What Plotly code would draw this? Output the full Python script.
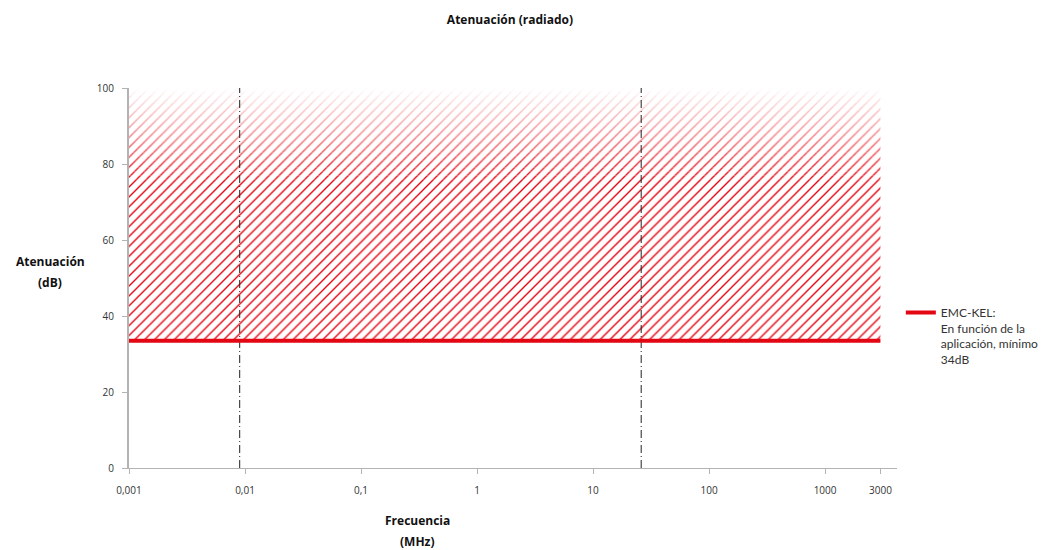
import plotly.graph_objects as go

# ---- data ----
freq_span = [0.001, 3000]          # MHz, extent of the EMC-KEL line / hatched area
min_attenuation = 33.5             # dB, level of the red line
hatch_top = 100                    # dB, top of hatched area
fade_start = 76                    # dB, hatch starts fading above this
marker_freqs = [0.009, 26]         # MHz, dash-dot reference lines
x_tickvals = [0.001, 0.01, 0.1, 1, 10, 100, 1000, 3000]
x_ticktext = ["0,001", "0,01", "0,1", "1", "10", "100", "1000", "3000"]
y_tickvals = [0, 20, 40, 60, 80, 100]
y_range = [0, 100]
legend_name = "EMC-KEL:<br>En función de la<br>aplicación, mínimo<br>34dB"

RED = "#e30613"
GREY = "#b3b3b3"
TXT = "#333333"
FONT = "Open Sans"

fig = go.Figure()

def band(lo, hi, op):
    fig.add_trace(go.Scatter(
        x=[freq_span[0], freq_span[1], freq_span[1], freq_span[0], freq_span[0]],
        y=[lo, lo, hi, hi, lo],
        mode="lines", line=dict(width=0), fill="toself",
        fillcolor="rgba(0,0,0,0)",
        fillpattern=dict(shape="/", fgcolor=RED, bgcolor="rgba(255,255,255,0)",
                         fgopacity=op, size=7, solidity=0.2, fillmode="replace"),
        showlegend=False, hoverinfo="skip"))

band(min_attenuation, fade_start, 1.0)
n = 24
step = (hatch_top - fade_start) / n
for i in range(n):
    lo = fade_start + i * step
    band(lo, lo + step, 1 - (i + 0.5) / n)

for f in marker_freqs:
    fig.add_trace(go.Scatter(
        x=[f, f], y=y_range, mode="lines",
        line=dict(color="#222222", width=1, dash="8px,3px,1px,3px"),
        showlegend=False, hoverinfo="skip"))

fig.add_trace(go.Scatter(
    x=freq_span, y=[min_attenuation, min_attenuation], mode="lines",
    line=dict(color=RED, width=4), name=legend_name))

fig.update_layout(
    width=1048, height=542,
    margin=dict(l=121, r=156, t=80, b=82),
    plot_bgcolor="white", paper_bgcolor="white",
    font=dict(family=FONT, color=TXT, size=10),
    title=dict(text="<b>Atenuación (radiado)</b>", x=0.479, xref="container",
               xanchor="center", y=0.978, yanchor="middle",
               font=dict(family=FONT, size=12, color="#111111")),
    legend=dict(x=1.005, xanchor="left", y=0.447, yanchor="top",
                valign="top", font=dict(family="Lato", size=12, color=TXT),
                bgcolor="rgba(0,0,0,0)"),
    xaxis=dict(type="log", range=[-3, 3.62], tickvals=x_tickvals, ticktext=x_ticktext,
               showgrid=False, zeroline=False, showline=True, linecolor=GREY, linewidth=1,
               ticks="outside", ticklen=5, tickcolor=GREY, ticklabelstandoff=8,
               tickfont=dict(size=10, color=TXT)),
    yaxis=dict(range=y_range, tickvals=y_tickvals, showgrid=False, zeroline=False,
               showline=True, linecolor=GREY, linewidth=2,
               ticks="outside", ticklen=5, tickcolor=GREY, ticklabelstandoff=6,
               tickfont=dict(size=10, color=TXT)),
)

for txt, x, y in [("Atenuación", -0.1025, 0.543), ("(dB)", -0.1025, 0.487),
                  ("Frecuencia", 0.375, -0.137), ("(MHz)", 0.375, -0.193)]:
    fig.add_annotation(text="<b>" + txt + "</b>", x=x, y=y, xref="paper", yref="paper",
                       showarrow=False, xanchor="center", yanchor="middle",
                       font=dict(family=FONT, size=12, color="#111111"))

fig.write_html("out.html")
